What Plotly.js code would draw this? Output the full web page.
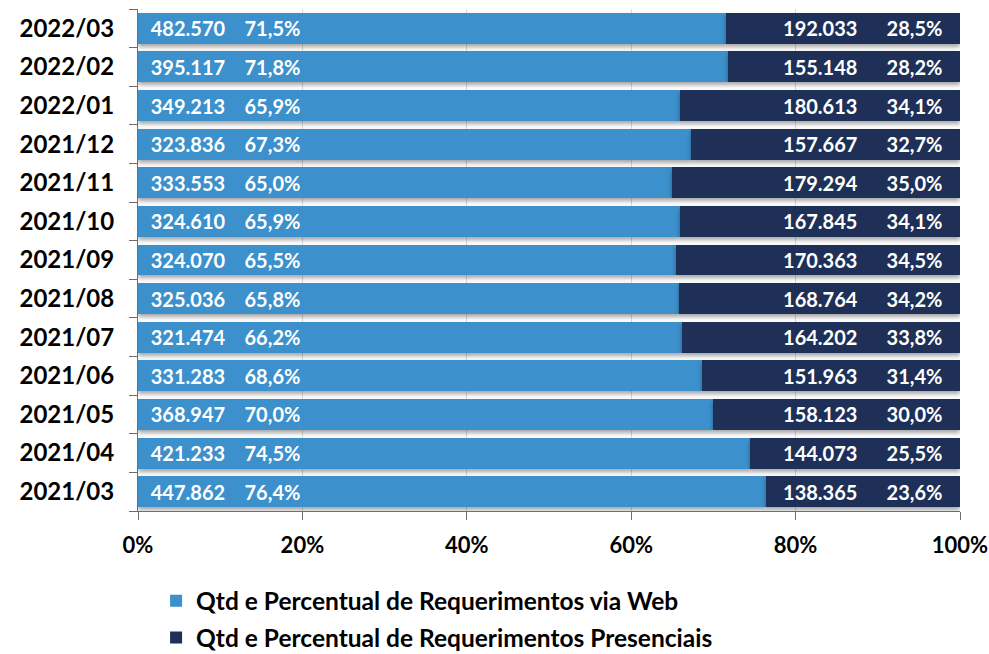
<!DOCTYPE html>
<html>
<head>
<meta charset="utf-8">
<script src="https://cdn.plot.ly/plotly-3.0.1.min.js"></script>
<style>
  html, body { margin: 0; padding: 0; background: #ffffff; }
  #chart { width: 989px; height: 654px; }
  .barlayer .point path { filter: drop-shadow(0px 3px 2px rgba(0,0,0,0.35)); }
</style>
</head>
<body>
<div id="chart"></div>
<script>
// Data (bottom to top)
const months = ["2021/03","2021/04","2021/05","2021/06","2021/07","2021/08","2021/09","2021/10","2021/11","2021/12","2022/01","2022/02","2022/03"];
const webQtd = [447862, 421233, 368947, 331283, 321474, 325036, 324070, 324610, 333553, 323836, 349213, 395117, 482570];
const presQtd = [138365, 144073, 158123, 151963, 164202, 168764, 170363, 167845, 179294, 157667, 180613, 155148, 192033];
const webPct = [76.4, 74.5, 70.0, 68.6, 66.2, 65.8, 65.5, 65.9, 65.0, 67.3, 65.9, 71.8, 71.5];
const presPct = [23.6, 25.5, 30.0, 31.4, 33.8, 34.2, 34.5, 34.1, 35.0, 32.7, 34.1, 28.2, 28.5];
const xTicks = [0, 20, 40, 60, 80, 100];
const seriesNames = ["Qtd e Percentual de Requerimentos via Web", "Qtd e Percentual de Requerimentos Presenciais"];

const NB = "\u00a0";
function fmtQtd(v) { return String(v).replace(/\B(?=(\d{3})+(?!\d))/g, "."); }
function fmtPct(v) { return v.toFixed(1).replace(".", ",") + "%"; }

const webText = webQtd.map((q, i) => NB + NB + fmtQtd(q) + NB.repeat(4) + fmtPct(webPct[i]));
const presText = presQtd.map((q, i) => fmtQtd(q) + NB.repeat(6) + fmtPct(presPct[i]) + NB + NB + NB);

const FONT = "Lato, 'Open Sans', sans-serif";

const traces = [
  {
    type: "bar", orientation: "h", name: seriesNames[0],
    y: months, x: webPct, text: webText,
    textposition: "inside", insidetextanchor: "start", textangle: 0,
    constraintext: "none", cliponaxis: false,
    texttemplate: "%{text}",
    insidetextfont: { family: FONT, size: 20, color: "#ffffff", weight: 700 },
    marker: { color: "#3c90cb", line: { width: 0 } },
    hoverinfo: "skip", legendgroup: "a"
  },
  {
    type: "bar", orientation: "h", name: seriesNames[1],
    y: months, x: presPct, text: presText,
    textposition: "inside", insidetextanchor: "end", textangle: 0,
    constraintext: "none", cliponaxis: false,
    texttemplate: "%{text}",
    insidetextfont: { family: FONT, size: 20, color: "#ffffff", weight: 700 },
    marker: { color: "#1e3057", line: { width: 0 } },
    hoverinfo: "skip", legendgroup: "b"
  }
];

const layout = {
  width: 989, height: 654,
  margin: { l: 138, r: 29, t: 9, b: 143, autoexpand: false },
  paper_bgcolor: "#ffffff", plot_bgcolor: "#ffffff",
  barmode: "stack", bargap: 0.2,
  font: { family: FONT, color: "#000000" },
  showlegend: true,
  legend: {
    orientation: "v", x: 0.022, xanchor: "left", y: -0.134, yanchor: "top",
    traceorder: "grouped", tracegroupgap: 2,
    font: { family: FONT, size: 24.5, color: "#000000", weight: 700 },
    bgcolor: "rgba(0,0,0,0)"
  },
  xaxis: {
    range: [0, 100], tickvals: xTicks, ticktext: xTicks.map(v => v + "%"),
    showgrid: true, gridcolor: "#d9d9d9", gridwidth: 1,
    zeroline: false, showline: true, linecolor: "#6e6e6e", linewidth: 1,
    ticks: "outside", ticklen: 8, tickcolor: "#6e6e6e",
    ticklabelstandoff: 7,
    tickfont: { family: FONT, size: 22, color: "#000000", weight: 700 },
    fixedrange: true
  },
  yaxis: {
    type: "category", categoryorder: "array", categoryarray: months,
    showgrid: false, zeroline: false, showline: true, linecolor: "#6e6e6e", linewidth: 1,
    ticks: "outside", ticklen: 8, tickcolor: "#6e6e6e", tickson: "boundaries",
    ticklabelstandoff: 18,
    tickfont: { family: FONT, size: 24, color: "#000000", weight: 700 },
    fixedrange: true
  }
};

Plotly.newPlot("chart", traces, layout, { displayModeBar: false, staticPlot: true });
</script>
</body>
</html>
